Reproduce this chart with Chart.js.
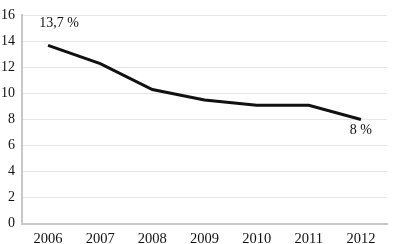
<!DOCTYPE html>
<html>
<head>
<meta charset="utf-8">
<script src="https://cdn.jsdelivr.net/npm/chart.js@4"></script>
<style>
  html, body { margin: 0; padding: 0; background: #fff; }
  #wrap { width: 400px; height: 244px; }
</style>
</head>
<body>
<div id="wrap"><canvas id="grafico"></canvas></div>
<script>
const anos = ["2006", "2007", "2008", "2009", "2010", "2011", "2012"];
const valores = [13.7, 12.3, 10.3, 9.5, 9.1, 9.1, 8.0];
const rotulos = ["13,7 %", "", "", "", "", "", "8 %"];

const fonte = "'Liberation Serif', serif";

const rotuloPlugin = {
    id: "rotulos",
    afterDatasetsDraw(chart) {
        const ctx = chart.ctx;
        const meta = chart.getDatasetMeta(0);
        ctx.save();
        ctx.font = "14px " + fonte;
        ctx.fillStyle = "#111";
        ctx.textAlign = "center";
        meta.data.forEach(function (pt, i) {
            if (!rotulos[i]) return;
            if (i === 0) {
                ctx.textBaseline = "bottom";
                ctx.fillText(rotulos[i], pt.x + 11, pt.y - 15);
            } else {
                ctx.textBaseline = "top";
                ctx.fillText(rotulos[i], pt.x, pt.y + 4);
            }
        });
        ctx.restore();
    }
};

new Chart(document.getElementById("grafico"), {
    type: "line",
    data: {
        labels: anos,
        datasets: [{
            data: valores,
            borderColor: "#111",
            borderWidth: 3,
            pointRadius: 0,
            tension: 0,
            fill: false
        }]
    },
    options: {
        responsive: true,
        maintainAspectRatio: false,
        animation: false,
        layout: { padding: { top: 2, right: 13, left: -6, bottom: -11 } },
        plugins: {
            legend: { display: false },
            tooltip: { enabled: false }
        },
        scales: {
            x: {
                offset: true,
                grid: { display: false, drawTicks: false },
                border: { color: "#c8c8c8", width: 2 },
                ticks: {
                    color: "#111",
                    padding: 7,
                    font: { family: fonte, size: 14.5 }
                }
            },
            y: {
                min: 0,
                max: 16,
                grid: { color: "#e6e6e6", drawTicks: false, lineWidth: 1 },
                border: { color: "#c8c8c8", width: 2 },
                ticks: {
                    stepSize: 2,
                    color: "#111",
                    padding: 7,
                    font: { family: fonte, size: 14 }
                }
            }
        }
    },
    plugins: [rotuloPlugin]
});
</script>
</body>
</html>
